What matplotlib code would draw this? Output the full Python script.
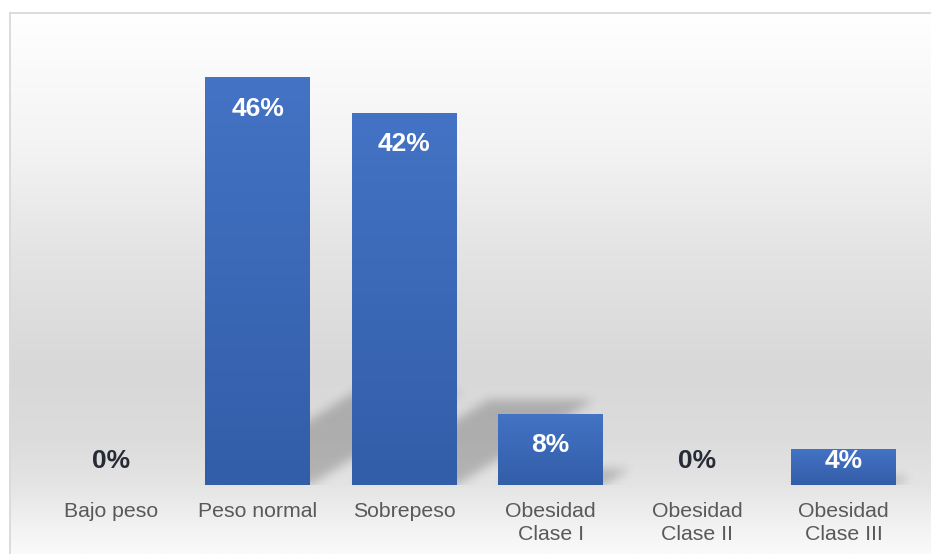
import numpy as np
import matplotlib
matplotlib.use("Agg")
import matplotlib.pyplot as plt

# Distribución por categoría de IMC
categories = ["Bajo peso", "Peso normal", "Sobrepeso",
              "Obesidad\nClase I", "Obesidad\nClase II", "Obesidad\nClase III"]
percentages = [0, 46, 42, 8, 0, 4]
value_labels = ["0%", "46%", "42%", "8%", "0%", "4%"]

FONT = "Liberation Sans"
W, H, DPI = 931, 554, 100

fig = plt.figure(figsize=(W / DPI, H / DPI), dpi=DPI)
fig.patch.set_facecolor("white")

# ---- chart-area background: soft vertical gray gradient with a thin frame
bg = fig.add_axes([0, 0, 1, 1], zorder=0)
bg.axis("off")
stops_y = [13, 150, 250, 370, 440, 485, 520, 554]
stops_v = [255, 243, 228, 216, 220, 228, 240, 250]
rows = np.arange(13, H + 1)
shade = np.interp(rows, stops_y, stops_v) / 255.0
grad = np.repeat(shade[:, None], 2, axis=1)
bg.imshow(np.dstack([grad] * 3), extent=(10, W, H, 13), aspect="auto",
          interpolation="bilinear")
bg.plot([9.5, 9.5, W], [H, 12.5, 12.5], color="#d9d9d9", lw=1.3,
        solid_joinstyle="miter")
bg.set_xlim(0, W)
bg.set_ylim(H, 0)

# ---- plotting axes
base_px, top_px = 485, 42.6
left_px, right_px = 38.25, 916.75
ymax = 50
ax = fig.add_axes([left_px / W, (H - base_px) / H,
                   (right_px - left_px) / W, (base_px - top_px) / H], zorder=1)
ax.patch.set_alpha(0)
ax.set_xlim(-0.5, len(categories) - 0.5)
ax.set_ylim(0, ymax)
for s in ax.spines.values():
    s.set_visible(False)
ax.set_yticks([])

x = np.arange(len(categories))
bar_w = 0.717
bars = ax.bar(x, percentages, width=bar_w, color="none", edgecolor="none", zorder=3)

px_per_x = (right_px - left_px) / len(categories)
px_per_y = (base_px - top_px) / ymax

# ---- perspective drop shadow cast up and to the right of each bar
gw = int(round(right_px - left_px))
gh = int(round(base_px - top_px))
gx = np.arange(gw)[None, :] + 0.5
gy = np.arange(gh)[:, None] + 0.5          # measured upward from the baseline
a_k, b_k = 0.37, 0.23                      # horizontal / vertical throw per px of height
mask = np.zeros((gh, gw))
for rect in bars:
    x0 = (rect.get_x() + 0.5) * px_per_x
    x1 = x0 + rect.get_width() * px_per_x
    hp = rect.get_height() * px_per_y
    if hp <= 0:
        continue
    sx = gx - (a_k / b_k) * gy
    m = (gy <= b_k * hp) & (sx >= x0) & (sx <= x1)
    mask = np.maximum(mask, m.astype(float))

sigma = 5.0
k = np.arange(-int(3 * sigma), int(3 * sigma) + 1)
kern = np.exp(-0.5 * (k / sigma) ** 2)
kern /= kern.sum()
pad = len(k)
padded = np.pad(mask, pad, mode="constant")
padded = np.apply_along_axis(lambda r: np.convolve(r, kern, mode="same"), 1, padded)
padded = np.apply_along_axis(lambda c: np.convolve(c, kern, mode="same"), 0, padded)
blur = padded[pad:-pad, pad:-pad]

shadow = np.zeros((gh, gw, 4))
shadow[..., 3] = 0.21 * blur
ax.imshow(shadow[::-1], extent=(-0.5, len(categories) - 0.5, 0, ymax),
          aspect="auto", origin="upper", interpolation="bilinear", zorder=2)

# ---- bars with a top-to-bottom blue gradient
top_c = np.array([68, 115, 197]) / 255.0
bot_c = np.array([50, 93, 168]) / 255.0
tvals = np.linspace(0, 1, 64)[:, None]
bar_grad = (top_c[None, :] * (1 - tvals) + bot_c[None, :] * tvals)[:, None, :]
for rect in bars:
    h = rect.get_height()
    if h <= 0:
        continue
    ax.imshow(bar_grad, extent=(rect.get_x(), rect.get_x() + rect.get_width(), 0, h),
              aspect="auto", origin="upper", interpolation="bilinear", zorder=3)

ax.set_xlim(-0.5, len(categories) - 0.5)
ax.set_ylim(0, ymax)

# ---- value labels
for xi, v, lab in zip(x, percentages, value_labels):
    hp = v * px_per_y
    if v > 0:
        off_px = -min(31, hp - 24)
        col = "white"
    else:
        off_px = 24.5
        col = "#262b35"
    ax.annotate(lab, (xi, v), xytext=(0, off_px * 0.72), textcoords="offset points",
                ha="center", va="center", fontsize=19, fontweight="bold",
                color=col, family=FONT, zorder=5)

# ---- category labels
ax.set_xticks(x)
ax.set_xticklabels(categories, fontsize=15.3, color="#595959", family=FONT,
                   linespacing=1.25)
ax.tick_params(axis="x", length=0, pad=12.5)

fig.savefig("out.png", dpi=DPI)
